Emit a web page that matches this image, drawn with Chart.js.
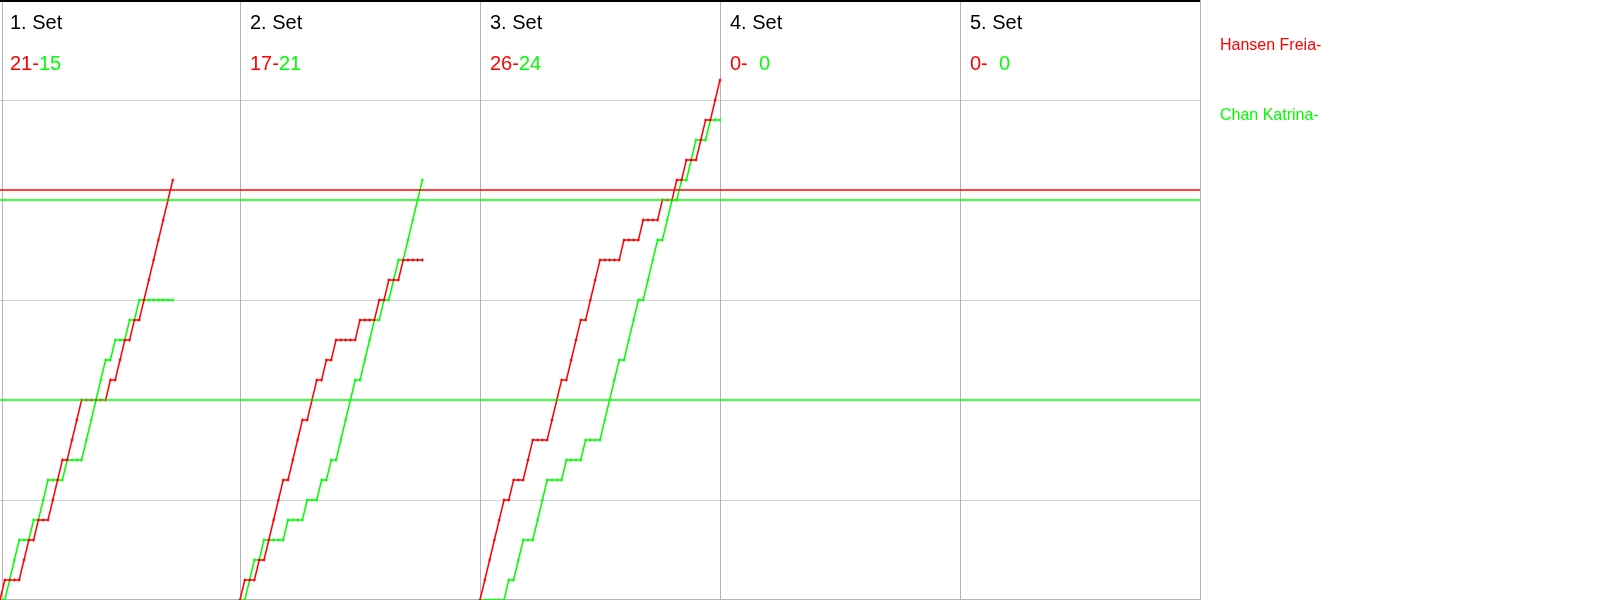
<!DOCTYPE html>
<html>
<head>
<meta charset="utf-8">
<script src="https://cdn.jsdelivr.net/npm/chart.js@4.4.1/dist/chart.umd.min.js"></script>
<style>
  html, body { margin: 0; padding: 0; background: #fff; }
  #wrap { width: 1600px; height: 600px; position: relative; }
</style>
</head>
<body>
<div id="wrap"><canvas id="rallies"></canvas></div>
<script>
const players = ['Hansen Freia-', 'Chan Katrina-'];
const playerColors = ['#ff0000', '#00ff00'];
const setLabels = ['1. Set', '2. Set', '3. Set', '4. Set', '5. Set'];
const hansenSetScores = [21, 17, 26, 0, 0];
const chanSetScores = [15, 21, 24, 0, 0];

// running score after each rally, index 0 = start of the set
const set1Hansen = [0,1,1,1,1,2,3,3,4,4,4,5,6,7,7,8,9,10,10,10,10,10,10,11,11,12,13,13,14,14,15,16,17,18,19,20,21];
const set1Chan   = [0,0,1,2,3,3,3,4,4,5,6,6,6,6,7,7,7,7,8,9,10,11,12,12,13,13,13,14,14,15,15,15,15,15,15,15,15];
const set2Hansen = [0,1,1,1,2,2,3,4,5,6,6,7,8,9,9,10,11,11,12,12,13,13,13,13,13,14,14,14,14,15,15,16,16,16,17,17,17,17,17];
const set2Chan   = [0,0,1,2,2,3,3,3,3,3,4,4,4,4,5,5,5,6,6,7,7,8,9,10,11,11,12,13,14,14,15,15,16,17,17,18,19,20,21];
const set3Hansen = [0,1,2,3,4,5,5,6,6,6,7,8,8,8,8,9,10,11,11,12,13,14,14,15,16,17,17,17,17,17,18,18,18,18,19,19,19,19,20,20,20,21,21,22,22,22,23,24,24,25,26];
const set3Chan   = [0,0,0,0,0,0,1,1,2,3,3,3,4,5,6,6,6,6,7,7,7,7,8,8,8,8,9,10,11,12,12,13,14,15,15,16,17,18,18,19,20,20,21,21,22,23,23,23,24,24,24];

const hansenRefLines = [20.5];
const chanRefLines = [20, 10];
const gridValues = [5, 15, 25];

const ralliesPerSet = 50;
const setCount = 5;
const maxPoints = 30;

const hansenSets = [set1Hansen, set2Hansen, set3Hansen];
const chanSets = [set1Chan, set2Chan, set3Chan];

const FONT = '"Liberation Sans", Arial, sans-serif';

function toPoints(arr, setIndex) {
    return arr.map((v, i) => ({ x: setIndex * ralliesPerSet + i, y: v }));
}

function refLine(value, color) {
    return {
        data: [{ x: 0, y: value }, { x: ralliesPerSet * setCount, y: value }],
        borderColor: color,
        borderWidth: 1.4,
        pointRadius: 0,
        fill: false
    };
}

function rallyLine(arr, setIndex, color) {
    return {
        data: toPoints(arr, setIndex),
        borderColor: color,
        backgroundColor: color,
        borderWidth: 1.5,
        pointStyle: 'cross',
        pointRadius: 1.5,
        pointBorderWidth: 1.2,
        pointBorderColor: color,
        fill: false,
        tension: 0
    };
}

const datasets = [];
hansenRefLines.forEach(v => datasets.push(refLine(v, playerColors[0])));
chanRefLines.forEach(v => datasets.push(refLine(v, playerColors[1])));
hansenSets.forEach((arr, s) => datasets.push(rallyLine(arr, s, playerColors[0])));
chanSets.forEach((arr, s) => datasets.push(rallyLine(arr, s, playerColors[1])));

const panelPlugin = {
    id: 'panels',
    beforeDatasetsDraw(chart) {
        const ctx = chart.ctx;
        const area = chart.chartArea;
        const xs = chart.scales.x;
        const ys = chart.scales.y;
        ctx.save();
        ctx.lineWidth = 1;

        ctx.strokeStyle = '#d3d3d3';
        gridValues.forEach(v => {
            const y = Math.round(ys.getPixelForValue(v)) + 0.5;
            ctx.beginPath();
            ctx.moveTo(0, y);
            ctx.lineTo(area.right, y);
            ctx.stroke();
        });

        ctx.strokeStyle = '#b4b4b4';
        for (let s = 1; s <= setCount; s++) {
            const x = Math.round(xs.getPixelForValue(s * ralliesPerSet)) + 0.5;
            ctx.beginPath();
            ctx.moveTo(x, area.top);
            ctx.lineTo(x, area.bottom);
            ctx.stroke();
        }
        // left frame and bottom frame
        ctx.beginPath();
        ctx.moveTo(area.left + 2.5, area.top);
        ctx.lineTo(area.left + 2.5, area.bottom);
        ctx.moveTo(0, area.bottom - 0.5);
        ctx.lineTo(area.right, area.bottom - 0.5);
        ctx.stroke();

        ctx.strokeStyle = '#000000';
        ctx.lineWidth = 2;
        ctx.beginPath();
        ctx.moveTo(0, area.top + 1);
        ctx.lineTo(area.right, area.top + 1);
        ctx.stroke();
        ctx.restore();
    },
    afterDatasetsDraw(chart) {
        const ctx = chart.ctx;
        const area = chart.chartArea;
        const xs = chart.scales.x;
        ctx.save();
        ctx.textBaseline = 'alphabetic';
        ctx.textAlign = 'left';
        ctx.font = '20px ' + FONT;
        const digitW = ctx.measureText('0').width;
        for (let s = 0; s < setCount; s++) {
            const x0 = xs.getPixelForValue(s * ralliesPerSet) + 10;
            ctx.fillStyle = '#000000';
            ctx.fillText(setLabels[s], x0, area.top + 29);

            const red = hansenSetScores[s] + '-';
            ctx.fillStyle = playerColors[0];
            ctx.fillText(red, x0, area.top + 70);
            const green = String(chanSetScores[s]);
            const gx = x0 + ctx.measureText(red).width + (2 - green.length) * digitW;
            ctx.fillStyle = playerColors[1];
            ctx.fillText(green, gx, area.top + 70);
        }

        ctx.font = '16px ' + FONT;
        players.forEach((name, i) => {
            ctx.fillStyle = playerColors[i];
            ctx.fillText(name, area.right + 20, area.top + 50 + i * 70);
        });
        ctx.restore();
    }
};

new Chart(document.getElementById('rallies').getContext('2d'), {
    type: 'line',
    data: { datasets: datasets },
    options: {
        responsive: true,
        maintainAspectRatio: false,
        animation: false,
        devicePixelRatio: 1,
        layout: { autoPadding: false, padding: { left: 0, right: 400, top: 0, bottom: 0 } },
        plugins: {
            legend: { display: false },
            tooltip: { enabled: false },
            title: { display: false }
        },
        scales: {
            x: { type: 'linear', min: 0, max: ralliesPerSet * setCount, display: false },
            y: { type: 'linear', min: 0, max: maxPoints, display: false }
        }
    },
    plugins: [panelPlugin]
});
</script>
</body>
</html>
